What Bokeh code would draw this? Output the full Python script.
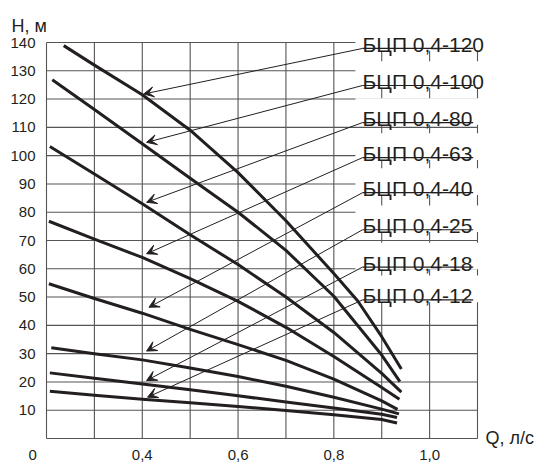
from bokeh.plotting import figure
from bokeh.models import Range1d, Label, Arrow, VeeHead
from bokeh.core.properties import value
from bokeh.embed import file_html
from bokeh.resources import INLINE

FONT = "Liberation Sans"
INK = "#231f20"
GRID = "#555555"

# ---- data ----
models = ["БЦП 0,4-120", "БЦП 0,4-100", "БЦП 0,4-80", "БЦП 0,4-63",
          "БЦП 0,4-40", "БЦП 0,4-25", "БЦП 0,4-18", "БЦП 0,4-12"]

q_120 = [0.236, 0.3, 0.4, 0.5, 0.6, 0.7, 0.8, 0.85, 0.9, 0.941]
h_120 = [138.9, 132.0, 121.5, 109.0, 94.0, 77.0, 58.3, 48.6, 36.0, 24.6]
q_100 = [0.212, 0.3, 0.4, 0.5, 0.6, 0.7, 0.8, 0.9, 0.938]
h_100 = [126.8, 116.3, 104.2, 92.0, 80.0, 66.5, 50.3, 29.5, 20.1]
q_80 = [0.207, 0.3, 0.4, 0.5, 0.6, 0.7, 0.8, 0.9, 0.941]
h_80 = [103.2, 93.5, 83.0, 72.0, 61.5, 50.0, 37.5, 23.0, 16.4]
q_63 = [0.205, 0.3, 0.4, 0.5, 0.6, 0.7, 0.8, 0.9, 0.937]
h_63 = [76.8, 70.5, 64.0, 56.5, 48.5, 39.3, 29.0, 18.0, 13.9]
q_40 = [0.205, 0.3, 0.4, 0.5, 0.6, 0.7, 0.8, 0.9, 0.933]
h_40 = [54.7, 49.5, 44.3, 38.6, 33.2, 27.6, 21.0, 13.3, 10.3]
q_25 = [0.21, 0.3, 0.4, 0.5, 0.6, 0.7, 0.8, 0.9, 0.936]
h_25 = [32.1, 30.0, 27.8, 24.9, 21.9, 18.5, 14.6, 10.4, 8.7]
q_18 = [0.207, 0.3, 0.4, 0.5, 0.6, 0.7, 0.8, 0.9, 0.932]
h_18 = [23.2, 21.3, 19.3, 17.2, 15.1, 12.9, 10.8, 8.6, 7.4]
q_12 = [0.207, 0.3, 0.4, 0.5, 0.6, 0.7, 0.8, 0.9, 0.932]
h_12 = [16.7, 15.3, 13.9, 12.6, 11.3, 9.9, 8.4, 6.7, 5.5]

curves_q = [q_120, q_100, q_80, q_63, q_40, q_25, q_18, q_12]
curves_h = [h_120, h_100, h_80, h_63, h_40, h_25, h_18, h_12]

# callout: underline height of each label and arrow tip on its curve
label_y = [137.9, 124.8, 111.7, 99.3, 86.9, 73.8, 60.6, 49.0]
tip_q = [0.403, 0.409, 0.409, 0.409, 0.414, 0.409, 0.409, 0.411]
tip_h = [121.8, 104.7, 83.5, 65.3, 46.4, 30.9, 20.5, 14.6]
label_q0 = 0.86
label_q1 = 1.091

x_ticks = [0.171, 0.4, 0.6, 0.8, 1.0]
x_tick_labels = ["0", "0,4", "0,6", "0,8", "1,0"]
y_ticks = [10, 20, 30, 40, 50, 60, 70, 80, 90, 100, 110, 120, 130, 140]
y_tick_labels = [str(t) for t in y_ticks]
x_grid = [0.2, 0.3, 0.4, 0.5, 0.6, 0.7, 0.8, 0.9, 1.0, 1.1]
y_grid = [0, 10, 20, 30, 40, 50, 60, 70, 80, 90, 100, 110, 120, 130, 140]

# ---- layout: grid box spans px 46..477 horizontally and 42..438 vertically ----
W, H = 546, 465
PX_PER_Q = 431 / 0.9
PX_PER_H = 396 / 140
x0 = 0.2 - 46 / PX_PER_Q
x1 = 0.2 + (W - 46) / PX_PER_Q
y0 = -(H - 438) / PX_PER_H
y1 = 438 / PX_PER_H

p = figure(width=W, height=H, x_range=Range1d(x0, x1), y_range=Range1d(y0, y1),
           output_backend="svg", toolbar_location=None,
           x_axis_location=None, y_axis_location=None, title=None,
           min_border_left=0, min_border_right=0, min_border_top=0, min_border_bottom=0)
p.xgrid.visible = False
p.ygrid.visible = False
p.outline_line_color = None
p.background_fill_color = "white"
p.border_fill_color = "white"

# tick labels, placed on the scales
p.text(x=[0.2] * len(y_ticks), y=y_ticks, text=y_tick_labels, x_offset=-11,
       text_align="right", text_baseline="middle", text_font=value(FONT),
       text_font_size=value("15px"), text_color=INK)
p.text(x=x_ticks, y=[0] * len(x_ticks), text=x_tick_labels, y_offset=11,
       text_align="center", text_baseline="top", text_font=value(FONT),
       text_font_size=value("15px"), text_color=INK)

# grid (including frame)
gx = [[x, x] for x in x_grid] + [[x_grid[0], x_grid[-1]] for _ in y_grid]
gy = [[y_grid[0], y_grid[-1]] for _ in x_grid] + [[y, y] for y in y_grid]
p.multi_line(gx, gy, line_color=GRID, line_width=1.1)

# white boxes behind callout labels
p.quad(left=[label_q0 - 0.015] * len(label_y), right=[1.15] * len(label_y),
       bottom=[y - 0.8 for y in label_y], top=[y + 8.6 for y in label_y],
       fill_color="white", line_color=None)

# curves
for q, h in zip(curves_q, curves_h):
    p.line(q, h, line_color=INK, line_width=3, line_join="round")

# underlines
p.segment(x0=[label_q0] * len(label_y), y0=label_y, x1=[label_q1] * len(label_y), y1=label_y,
          line_color=INK, line_width=1.2)

for name, ly, tq, th in zip(models, label_y, tip_q, tip_h):
    p.add_layout(Label(x=label_q0, y=ly + 1.4, text=name, text_font=FONT,
                       text_font_size="21px", text_color=INK, text_baseline="alphabetic"))
    p.add_layout(Arrow(x_start=label_q0, y_start=ly, x_end=tq, y_end=th,
                       line_color=INK, line_width=1,
                       end=VeeHead(size=10, fill_color=INK, line_color=INK, line_width=1)))

p.add_layout(Label(x=0.2, x_offset=-35, y=146.0, text="H, м", text_font=FONT,
                   text_font_size="18px", text_color=INK, text_baseline="alphabetic"))
p.add_layout(Label(x=1.1, x_offset=8, y=0.3, text="Q, л/с", text_font=FONT,
                   text_font_size="18px", text_color=INK, text_baseline="alphabetic"))

open("out.html", "w").write(file_html(p, INLINE))
